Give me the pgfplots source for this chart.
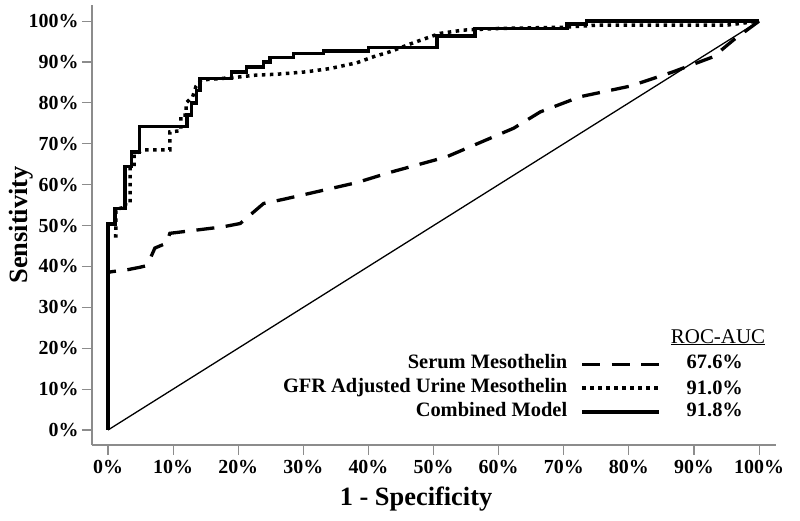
\documentclass[border=0pt]{standalone}
\usepackage{pgfplots}
\pgfplotsset{compat=1.18}
\usepackage{fontspec}
\setmainfont{Liberation Serif}
\begin{document}
\begin{tikzpicture}
\begin{axis}[
  name=ax,
  scale only axis,
  width=684bp, height=440bp,
  xmin=-0.0246, xmax=1.026,
  ymin=-0.0367, ymax=1.0394,
  axis lines=left,
  axis line style={-, draw=black!45, line width=1.3bp},
  tick align=outside,
  major tick length=10bp,
  tick style={draw=black!45, line width=1.1bp},
  xtick={0,0.1,0.2,0.3,0.4,0.5,0.6,0.7,0.8,0.9,1},
  ytick={0,0.1,0.2,0.3,0.4,0.5,0.6,0.7,0.8,0.9,1},
  xticklabels={0\%,10\%,20\%,30\%,40\%,50\%,60\%,70\%,80\%,90\%,100\%},
  yticklabels={0\%,10\%,20\%,30\%,40\%,50\%,60\%,70\%,80\%,90\%,100\%},
  ticklabel style={font=\fontsize{20}{22}\selectfont\bfseries},
  xticklabel style={yshift=-2bp},
  xlabel={1 - Specificity},
  xlabel style={font=\fontsize{26.5}{30}\selectfont\bfseries, at={(axis description cs:0.4737,-0.1386)}, anchor=base},
  ylabel={Sensitivity},
  ylabel style={font=\fontsize{26.5}{30}\selectfont\bfseries, at={(axis description cs:-0.104,0.5)}, anchor=center},
  legend style={draw=none, fill=none, inner sep=0pt, outer sep=0pt,
    at={(axis cs:0.849,0.186)}, anchor=north east,
    font=\fontsize{20.5}{22}\selectfont\bfseries,
    row sep=3.5bp, column sep=12bp,
    nodes={inner sep=1bp, text height=14bp, text depth=4.5bp}},
  legend plot pos=right,
  legend cell align=right,
  legend image code/.code={\draw[#1] (0bp,0bp) -- (77bp,0bp);},
]
% diagonal
\addplot[black, line width=1.3bp, forget plot] coordinates {(0,0) (1,1)};
% Serum Mesothelin
\addplot[black, line width=3.3bp, dash pattern=on 18bp off 11.5bp] coordinates {
(0,0) (0,0.385) (0.005,0.387) (0.03,0.392) (0.049,0.398) (0.057,0.401)
(0.065,0.42) (0.072,0.445) (0.09,0.457) (0.095,0.481) (0.126,0.487)
(0.177,0.497) (0.203,0.505) (0.239,0.554) (0.269,0.564) (0.305,0.577)
(0.382,0.605) (0.433,0.630) (0.52,0.668) (0.623,0.738) (0.664,0.778)
(0.725,0.815) (0.802,0.841) (0.868,0.876) (0.93,0.913) (0.96,0.953) (1,1)};
\addlegendentry{Serum Mesothelin}
% GFR adjusted urine mesothelin
\addplot[black, line width=3.5bp, dash pattern=on 3.5bp off 4.5bp] coordinates {
(0,0) (0,0.475) (0.012,0.475) (0.012,0.54) (0.027,0.545) (0.027,0.555)
(0.034,0.555) (0.034,0.644) (0.04,0.644) (0.04,0.675) (0.055,0.685)
(0.095,0.685) (0.095,0.729) (0.112,0.732) (0.112,0.77) (0.12,0.77)
(0.12,0.80) (0.13,0.815) (0.135,0.84) (0.143,0.856) (0.193,0.862)
(0.228,0.868) (0.259,0.870) (0.305,0.876) (0.341,0.884) (0.382,0.898)
(0.408,0.913) (0.433,0.925) (0.469,0.947) (0.51,0.97) (0.546,0.978)
(0.6,0.982) (0.70,0.985) (0.75,0.99) (0.95,0.99) (1,1)};
\addlegendentry{GFR Adjusted Urine Mesothelin}
% Combined model
\addplot[black, line width=3.5bp] coordinates {
(0,0) (0,0.504) (0.011,0.504) (0.011,0.542) (0.026,0.542) (0.026,0.644)
(0.036,0.644) (0.036,0.680) (0.048,0.680) (0.048,0.742) (0.121,0.742)
(0.121,0.770) (0.128,0.770) (0.128,0.80) (0.136,0.80) (0.136,0.83)
(0.141,0.83) (0.141,0.86) (0.19,0.86) (0.19,0.875) (0.213,0.875)
(0.213,0.888) (0.239,0.888) (0.239,0.90) (0.249,0.90) (0.249,0.911)
(0.285,0.911) (0.285,0.921) (0.331,0.921) (0.331,0.927) (0.40,0.927)
(0.40,0.936) (0.505,0.936) (0.505,0.963) (0.564,0.963) (0.564,0.982)
(0.705,0.982) (0.705,0.993) (0.735,0.993) (0.735,1.0) (1,1)};
\addlegendentry{Combined Model}
\node[font=\fontsize{21}{24}\selectfont] at (axis cs:0.937,0.227) {\underline{ROC-AUC}};
\node[font=\fontsize{20.5}{22}\selectfont\bfseries] at (axis cs:0.932,0.166) {67.6\%};
\node[font=\fontsize{20.5}{22}\selectfont\bfseries] at (axis cs:0.932,0.103) {91.0\%};
\node[font=\fontsize{20.5}{22}\selectfont\bfseries] at (axis cs:0.932,0.049) {91.8\%};
\end{axis}
\path (ax.south west) ++(-92bp,-76bp) coordinate (bl);
\path (ax.north east) ++(24bp,5bp) coordinate (tr);
\path (bl) rectangle (tr);
\end{tikzpicture}
\end{document}
